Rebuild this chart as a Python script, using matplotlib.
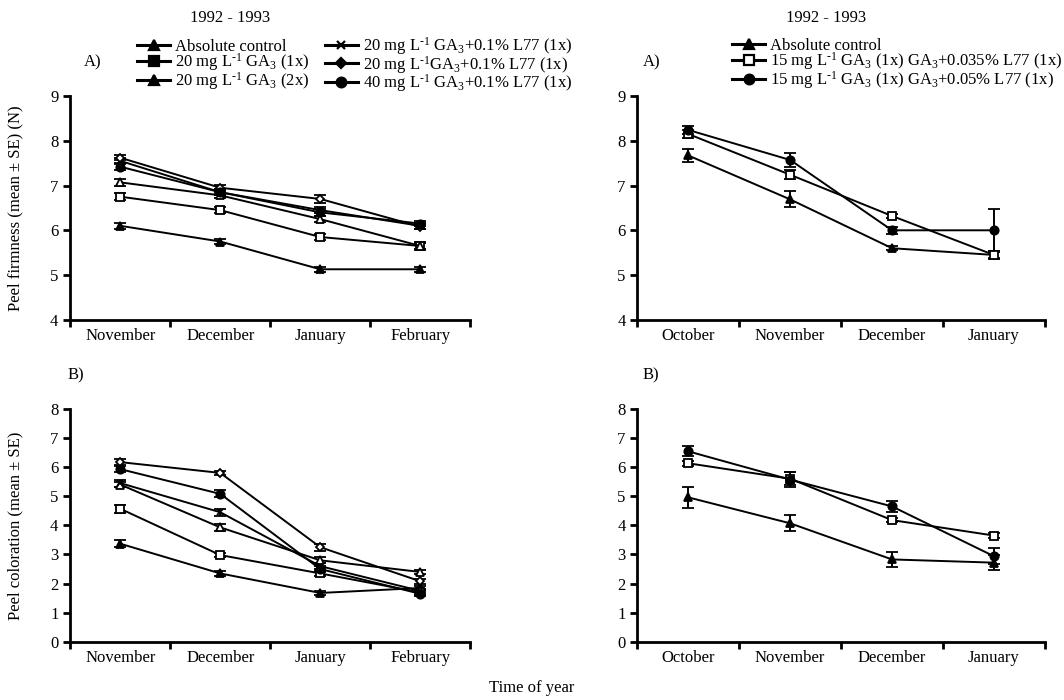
import matplotlib
matplotlib.use("Agg")
import matplotlib.pyplot as plt
from matplotlib.lines import Line2D
import numpy as np

plt.rcParams['font.family'] = ['Liberation Serif', 'DejaVu Serif']
plt.rcParams['mathtext.fontset'] = 'custom'
plt.rcParams['mathtext.rm'] = 'Liberation Serif'
plt.rcParams['mathtext.it'] = 'Liberation Serif:italic'
plt.rcParams['font.size'] = 12

# linker Teil: Saison 1992-1993, Versuch 1
monate_l = ["November", "December", "January", "February"]
namen_l = ["Absolute control",
           r"20 mg L$^{\text{-1}}$ GA$_3$ (1x)",
           r"20 mg L$^{\text{-1}}$ GA$_3$ (2x)",
           r"20 mg L$^{\text{-1}}$ GA$_3$+0.1% L77 (1x)",
           r"20 mg L$^{\text{-1}}$GA$_3$+0.1% L77 (1x)",
           r"40 mg L$^{\text{-1}}$ GA$_3$+0.1% L77 (1x)"]
marker_l = ['^', 's', '^', 'x', 'D', 'o']
gefuellt_l = [True, False, False, True, False, True]

festigkeit_l = [[6.10, 5.75, 5.13, 5.13],
                [6.75, 6.45, 5.85, 5.65],
                [7.07, 6.78, 6.25, 5.65],
                [7.55, 6.85, 6.45, 6.10],
                [7.62, 6.95, 6.70, 6.08],
                [7.42, 6.85, 6.40, 6.15]]
festigkeit_l_se = [[0.06, 0.06, 0.05, 0.06],
                   [0.08, 0.07, 0.07, 0.08],
                   [0.07, 0.06, 0.06, 0.07],
                   [0.07, 0.07, 0.07, 0.06],
                   [0.06, 0.07, 0.08, 0.06],
                   [0.08, 0.06, 0.07, 0.06]]

farbe_l = [[3.37, 2.35, 1.68, 1.85],
           [4.57, 2.98, 2.35, 1.70],
           [5.40, 3.93, 2.80, 2.40],
           [5.45, 4.45, 2.60, 1.75],
           [6.17, 5.80, 3.25, 2.08],
           [5.93, 5.08, 2.50, 1.65]]
farbe_l_se = [[0.12, 0.10, 0.08, 0.08],
              [0.13, 0.08, 0.10, 0.08],
              [0.10, 0.12, 0.10, 0.08],
              [0.12, 0.12, 0.10, 0.08],
              [0.10, 0.08, 0.12, 0.08],
              [0.10, 0.12, 0.10, 0.08]]

# rechter Teil: Saison 1992-1993, Versuch 2
monate_r = ["October", "November", "December", "January"]
namen_r = ["Absolute control",
           r"15 mg L$^{\text{-1}}$ GA$_3$ (1x) GA$_3$+0.035% L77 (1x)",
           r"15 mg L$^{\text{-1}}$ GA$_3$ (1x) GA$_3$+0.05% L77 (1x)"]
marker_r = ['^', 's', 'o']
gefuellt_r = [True, False, True]

festigkeit_r = [[7.67, 6.69, 5.60, 5.45],
                [8.15, 7.24, 6.32, 5.45],
                [8.24, 7.57, 6.00, 6.00]]
festigkeit_r_se = [[0.15, 0.18, 0.05, 0.06],
                   [0.10, 0.10, 0.05, 0.08],
                   [0.08, 0.15, 0.08, 0.47]]

farbe_r = [[4.96, 4.07, 2.83, 2.72],
           [6.13, 5.60, 4.18, 3.65],
           [6.54, 5.57, 4.65, 2.94]]
farbe_r_se = [[0.35, 0.28, 0.25, 0.25],
              [0.08, 0.22, 0.08, 0.08],
              [0.17, 0.27, 0.18, 0.28]]


def groesse(m):
    if m == 'D':
        return 4
    if m == 'x':
        return 5
    return 6


def zeichne(ax, monate, werte, fehler, marker, gefuellt, ymin, ymax):
    x = np.arange(len(monate)) + 0.5
    for w, e, m, g in zip(werte, fehler, marker, gefuellt):
        ax.errorbar(x, w, yerr=e, color='black', lw=1.4, marker=m,
                    markersize=groesse(m), markerfacecolor='black' if g else 'white',
                    markeredgecolor='black', markeredgewidth=1.3,
                    capsize=4, elinewidth=1.4, capthick=1.4)
    ax.set_xlim(0, len(monate))
    ax.set_ylim(ymin, ymax)
    ax.set_xticks(np.arange(len(monate) + 1))
    ax.set_xticklabels([])
    ax.set_xticks(x, minor=True)
    ax.set_xticklabels(monate, minor=True)
    ax.tick_params(axis='x', which='minor', length=0, pad=6)
    ax.tick_params(axis='both', which='major', direction='out', length=5, width=2)
    ax.set_yticks(np.arange(ymin, ymax + 1))
    for s in ['top', 'right']:
        ax.spines[s].set_visible(False)
    for s in ['left', 'bottom']:
        ax.spines[s].set_linewidth(2)


def legenden_griffe(marker, gefuellt):
    return [Line2D([], [], color='black', lw=2.2, marker=m, markersize=groesse(m) + 1,
                   markerfacecolor='black' if g else 'white',
                   markeredgecolor='black', markeredgewidth=1.6)
            for m, g in zip(marker, gefuellt)]


fig = plt.figure(figsize=(10.64, 7.0), dpi=100)
ax_ol = fig.add_axes([0.066, 0.543, 0.376, 0.32])
ax_or = fig.add_axes([0.599, 0.543, 0.383, 0.32])
ax_ul = fig.add_axes([0.066, 0.083, 0.376, 0.333])
ax_ur = fig.add_axes([0.599, 0.083, 0.383, 0.333])

zeichne(ax_ol, monate_l, festigkeit_l, festigkeit_l_se, marker_l, gefuellt_l, 4, 9)
zeichne(ax_ul, monate_l, farbe_l, farbe_l_se, marker_l, gefuellt_l, 0, 8)
zeichne(ax_or, monate_r, festigkeit_r, festigkeit_r_se, marker_r, gefuellt_r, 4, 9)
zeichne(ax_ur, monate_r, farbe_r, farbe_r_se, marker_r, gefuellt_r, 0, 8)

ax_ol.set_ylabel("Peel firmness (mean ± SE) (N)")
ax_ul.set_ylabel("Peel coloration (mean ± SE)")
ax_ol.yaxis.set_label_coords(-0.118, 0.5)
ax_ul.yaxis.set_label_coords(-0.118, 0.5)

fig.legend(legenden_griffe(marker_l, [True] * 6), namen_l, ncol=2, loc='upper left',
           bbox_to_anchor=(0.121, 0.962), frameon=False, handlelength=2.0,
           handletextpad=0.3, columnspacing=0.9, labelspacing=-0.19, borderpad=0)
fig.legend(legenden_griffe(marker_r, gefuellt_r), namen_r, ncol=1, loc='upper left',
           bbox_to_anchor=(0.680, 0.958), frameon=False, handlelength=2.0,
           handletextpad=0.3, labelspacing=-0.19, borderpad=0)

fig.text(0.216, 0.974, "1992 - 1993", ha='center', va='center')
fig.text(0.776, 0.974, "1992 - 1993", ha='center', va='center')
fig.text(0.087, 0.911, "A)", ha='center', va='center')
fig.text(0.612, 0.911, "A)", ha='center', va='center')
fig.text(0.071, 0.464, "B)", ha='center', va='center')
fig.text(0.612, 0.464, "B)", ha='center', va='center')
fig.text(0.5, 0.017, "Time of year", ha='center', va='center')

fig.savefig("out.png", dpi=100)
